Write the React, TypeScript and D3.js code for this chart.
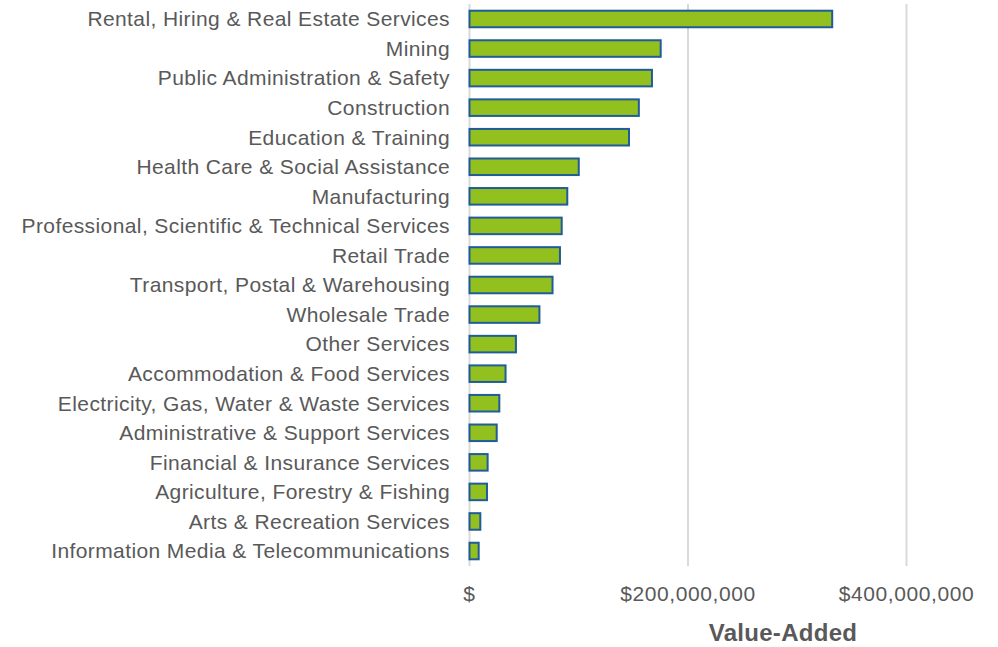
import { useEffect, useRef } from "react";
import * as d3 from "d3";

const categories = [
  "Rental, Hiring & Real Estate Services",
  "Mining",
  "Public Administration & Safety",
  "Construction",
  "Education & Training",
  "Health Care & Social Assistance",
  "Manufacturing",
  "Professional, Scientific & Technical Services",
  "Retail Trade",
  "Transport, Postal & Warehousing",
  "Wholesale Trade",
  "Other Services",
  "Accommodation & Food Services",
  "Electricity, Gas, Water & Waste Services",
  "Administrative & Support Services",
  "Financial & Insurance Services",
  "Agriculture, Forestry & Fishing",
  "Arts & Recreation Services",
  "Information Media & Telecommunications",
];

// value-added, dollars
const values = [
  332e6, 175e6, 167e6, 155e6, 146e6, 100e6, 89.5e6, 84.4e6, 82.8e6, 76e6,
  64e6, 42.5e6, 33e6, 27.3e6, 24.9e6, 16.6e6, 16e6, 9.9e6, 8.4e6,
];

const xTicks = [0, 200e6, 400e6];

const W = 998;
const H = 647;

export default function App() {
  const svgRef = useRef<SVGSVGElement | null>(null);

  useEffect(() => {
    if (!svgRef.current) return;
    const svg = d3.select(svgRef.current);
    svg.selectAll("*").remove();

    const font = "'Liberation Sans', Arial, sans-serif";
    const grey = "#595959";

    const x = d3.scaleLinear().domain([0, 400e6]).range([469.5, 906.5]);
    const y = d3
      .scaleBand()
      .domain(categories)
      .range([4.2, 565.8])
      .paddingInner(0.44)
      .paddingOuter(0.22);

    // gridlines
    svg
      .append("g")
      .selectAll("line")
      .data(xTicks)
      .enter()
      .append("line")
      .attr("x1", (d) => x(d))
      .attr("x2", (d) => x(d))
      .attr("y1", 4)
      .attr("y2", 566)
      .attr("stroke", "#d9d9d9")
      .attr("stroke-width", 2);

    // bars
    svg
      .append("g")
      .selectAll("rect")
      .data(values)
      .enter()
      .append("rect")
      .attr("x", x(0))
      .attr("y", (_d, i) => y(categories[i]) || 0)
      .attr("width", (d) => x(d) - x(0))
      .attr("height", y.bandwidth())
      .attr("fill", "#92c01f")
      .attr("stroke", "#1f5c99")
      .attr("stroke-width", 2);

    // category labels
    svg
      .append("g")
      .selectAll("text")
      .data(categories)
      .enter()
      .append("text")
      .attr("x", 450)
      .attr("y", (d) => (y(d) || 0) + y.bandwidth() / 2)
      .attr("dy", "0.35em")
      .attr("text-anchor", "end")
      .attr("font-family", font)
      .attr("font-size", 21)
      .attr("letter-spacing", 0.4)
      .attr("fill", grey)
      .text((d) => d);

    // x tick labels
    const fmt = (v: number) => (v === 0 ? "$" : "$" + d3.format(",")(v));
    svg
      .append("g")
      .selectAll("text")
      .data(xTicks)
      .enter()
      .append("text")
      .attr("x", (d) => x(d))
      .attr("y", 594)
      .attr("dy", "0.35em")
      .attr("text-anchor", "middle")
      .attr("font-family", font)
      .attr("font-size", 21)
      .attr("letter-spacing", 0.6)
      .attr("fill", grey)
      .text(fmt);

    // axis title
    svg
      .append("text")
      .attr("x", 783)
      .attr("y", 633)
      .attr("dy", "0.35em")
      .attr("text-anchor", "middle")
      .attr("font-family", font)
      .attr("font-size", 24)
      .attr("font-weight", "bold")
      .attr("letter-spacing", 0.3)
      .attr("fill", grey)
      .text("Value-Added");
  }, []);

  return (
    <svg
      ref={svgRef}
      width={W}
      height={H}
      style={{ position: "absolute", left: 0, top: 0, background: "#fff" }}
    />
  );
}
